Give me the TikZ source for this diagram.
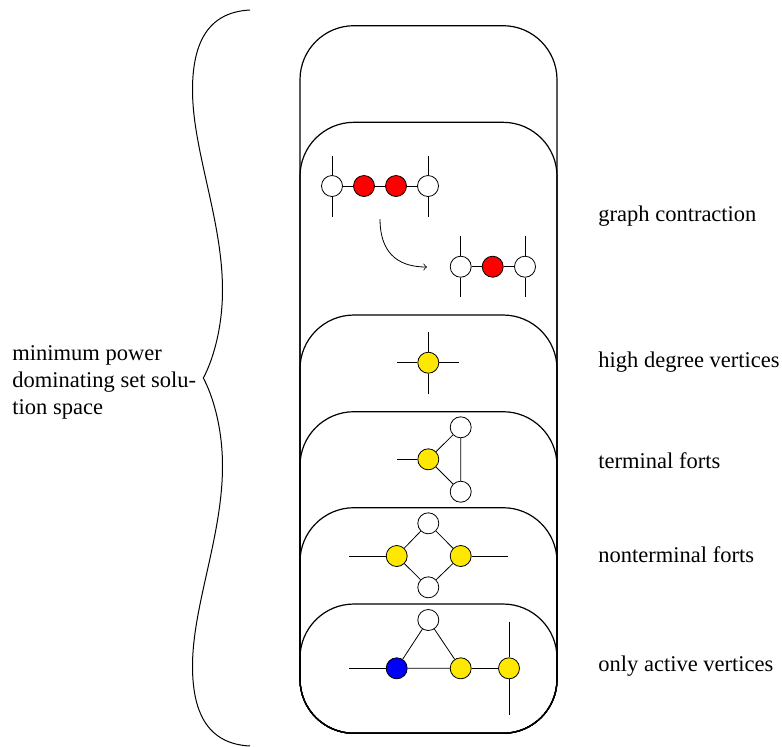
\documentclass[tikz,border=0pt]{standalone}
\usepackage{fontspec}
\setmainfont{Liberation Serif}
\definecolor{vyellow}{RGB}{255,232,0}
\begin{document}
\begin{tikzpicture}[x=0.5pt,y=-0.5pt,
  vtx/.style={circle,draw,fill=white,minimum size=10.5pt,inner sep=0pt,line width=0.4pt},
  redvtx/.style={vtx,fill=red},
  yelvtx/.style={vtx,fill=vyellow},
  bluvtx/.style={vtx,fill=blue},
  gedge/.style={draw,line width=0.4pt},
  layer/.style={draw,line width=0.6pt,rounded corners=27pt},
  lbl/.style={anchor=west,inner sep=0pt,font=\fontsize{11.25}{13.5}\selectfont},
  bracepath/.style={draw,line width=0.5pt}
]
\useasboundingbox (0,0) rectangle (782,746);

% layers
\foreach \t in {25.7,122.3,315,411.7,507.7,604}
  \draw[layer] (300,\t) rectangle (557,733.3);

% brace
\draw[bracepath] (250,10) .. controls (210,12) and (192.5,40) .. (192.5,90)
  .. controls (192.5,150) and (222.5,220) .. (222.5,290)
  .. controls (222.5,330) and (212,362) .. (203.3,378)
  .. controls (212,394) and (222.5,426) .. (222.5,466)
  .. controls (222.5,536) and (192.5,606) .. (192.5,666)
  .. controls (192.5,716) and (210,744) .. (250,746);

% left text
\node[lbl,align=left] (space) at (12,382) {minimum power\\dominating set solu-\\tion space};

% graph contraction
\node[vtx] (a1) at (332,186) {};
\node[redvtx] (a2) at (364,186) {};
\node[redvtx] (a3) at (396,186) {};
\node[vtx] (a4) at (428,186) {};
\coordinate (a1u) at (332,156);
\coordinate (a1d) at (332,217);
\coordinate (a4u) at (428,156);
\coordinate (a4d) at (428,217);
\draw[gedge] (a1) -- (a2) -- (a3) -- (a4);
\draw[gedge] (a1u) -- (a1) -- (a1d);
\draw[gedge] (a4u) -- (a4) -- (a4d);

\coordinate (arrS) at (380,219);
\coordinate (arrE) at (427,267);
\draw[->,line width=0.4pt] (arrS) .. controls (380,250) and (395,267) .. (arrE);

\node[vtx] (b1) at (460.7,266.7) {};
\node[redvtx] (b2) at (492.7,266.7) {};
\node[vtx] (b3) at (525,266.7) {};
\coordinate (b1u) at (460.7,236);
\coordinate (b1d) at (460.7,297);
\coordinate (b3u) at (525,236);
\coordinate (b3d) at (525,297);
\draw[gedge] (b1) -- (b2) -- (b3);
\draw[gedge] (b1u) -- (b1) -- (b1d);
\draw[gedge] (b3u) -- (b3) -- (b3d);

% high degree
\node[yelvtx] (c) at (428.3,362.7) {};
\coordinate (cl) at (397.3,362.7);
\coordinate (cr) at (459.3,362.7);
\coordinate (cu) at (428.3,332.3);
\coordinate (cd) at (428.3,394);
\draw[gedge] (cl) -- (c) -- (cr);
\draw[gedge] (cu) -- (c) -- (cd);

% terminal forts
\node[yelvtx] (d1) at (428.3,459.3) {};
\node[vtx] (d2) at (460.7,427.3) {};
\node[vtx] (d3) at (460.7,491.7) {};
\coordinate (dl) at (397.3,459.3);
\draw[gedge] (dl) -- (d1);
\draw[gedge] (d1) -- (d2) -- (d3) -- (d1);

% nonterminal forts
\node[vtx] (e1) at (428.3,523.3) {};
\node[yelvtx] (e2) at (396.7,556) {};
\node[yelvtx] (e3) at (460.7,556) {};
\node[vtx] (e4) at (428.3,587.3) {};
\coordinate (el) at (349.3,556);
\coordinate (er) at (507.7,556);
\draw[gedge] (el) -- (e2);
\draw[gedge] (e3) -- (er);
\draw[gedge] (e2) -- (e1) -- (e3) -- (e4) -- (e2);

% only active
\node[vtx] (f1) at (428.3,620) {};
\node[bluvtx] (f2) at (396.7,668.3) {};
\node[yelvtx] (f3) at (460.7,668.3) {};
\node[yelvtx] (f4) at (509,668.3) {};
\coordinate (fl) at (349.3,668.3);
\coordinate (f4u) at (509,621.7);
\coordinate (f4d) at (509,715);
\draw[gedge] (fl) -- (f2);
\draw[gedge] (f2) -- (f1) -- (f3) -- (f2);
\draw[gedge] (f3) -- (f4);
\draw[gedge] (f4u) -- (f4) -- (f4d);

% right labels
\node[lbl] (l1) at (598,216) {graph contraction};
\node[lbl] (l2) at (598,362) {high degree vertices};
\node[lbl] (l3) at (598,461) {terminal forts};
\node[lbl] (l4) at (598,555) {nonterminal forts};
\node[lbl] (l5) at (598,666) {only active vertices};
\end{tikzpicture}
\end{document}
